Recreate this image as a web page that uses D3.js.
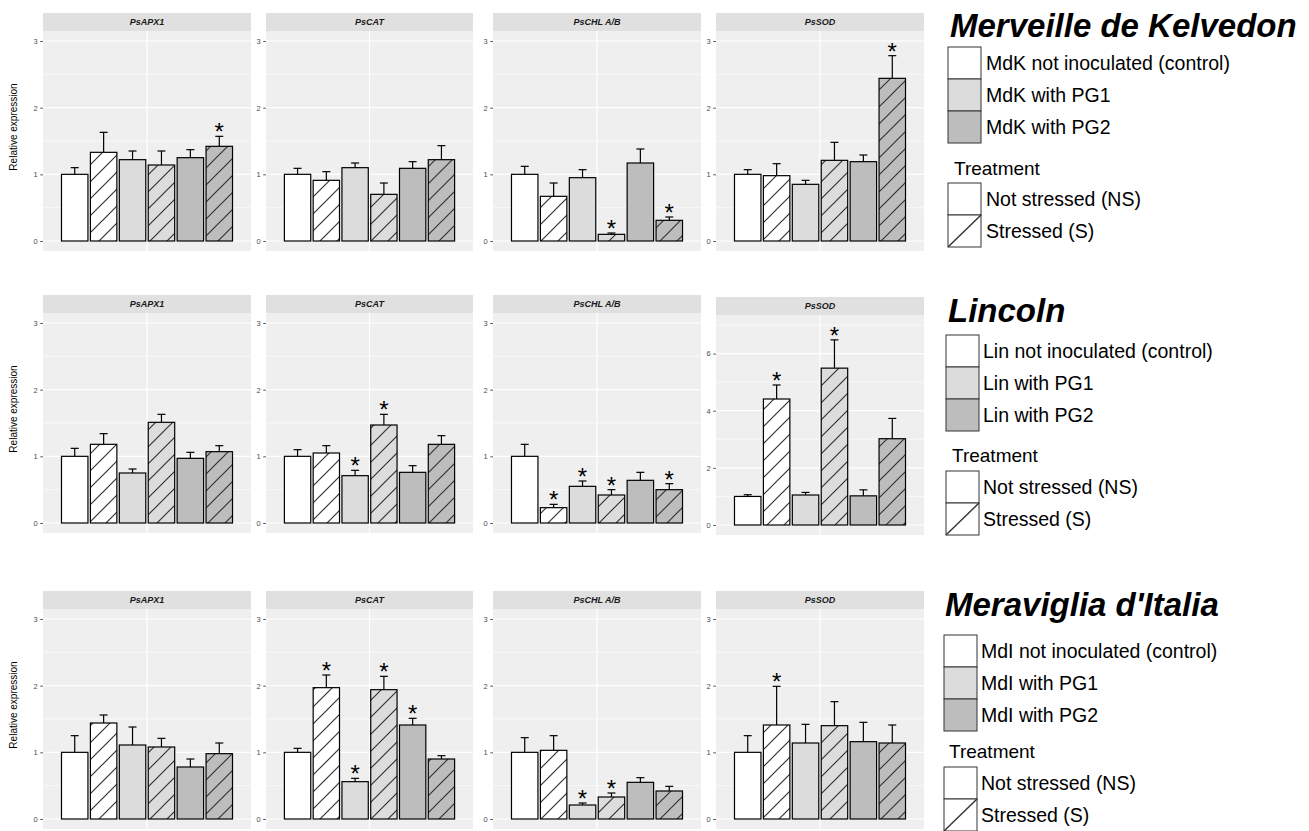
<!DOCTYPE html>
<html>
<head>
<meta charset="utf-8">
<script src="https://cdn.jsdelivr.net/npm/d3@7"></script>
<style>
  body { margin: 0; background: #fff; }
  svg { display: block; }
  text { font-family: "Liberation Sans", Arial, Helvetica, sans-serif; }
</style>
</head>
<body>
<svg id="chart" width="1309" height="831"></svg>
<script>
// ---- data ---------------------------------------------------------------
const genes = ["PsAPX1", "PsCAT", "PsCHL A/B", "PsSOD"];
const varieties = ["Merveille de Kelvedon", "Lincoln", "Meraviglia d'Italia"];
const varietyCodes = ["MdK", "Lin", "MdI"];
const inoculation = ["not inoculated (control)", "with PG1", "with PG2"];
const treatments = ["Not stressed (NS)", "Stressed (S)"];
// bar order inside each gene: control NS, control S, PG1 NS, PG1 S, PG2 NS, PG2 S

const mdkMean = [
  [1.00, 1.33, 1.22, 1.14, 1.25, 1.42],
  [1.00, 0.91, 1.10, 0.70, 1.09, 1.22],
  [1.00, 0.67, 0.95, 0.10, 1.17, 0.31],
  [1.00, 0.98, 0.85, 1.21, 1.19, 2.44]
];
const mdkSE = [
  [0.10, 0.30, 0.13, 0.21, 0.12, 0.15],
  [0.09, 0.13, 0.07, 0.17, 0.10, 0.21],
  [0.12, 0.20, 0.12, 0.02, 0.21, 0.05],
  [0.07, 0.18, 0.06, 0.27, 0.10, 0.34]
];
const mdkSig = [
  [0, 0, 0, 0, 0, 1],
  [0, 0, 0, 0, 0, 0],
  [0, 0, 0, 1, 0, 1],
  [0, 0, 0, 0, 0, 1]
];

const linMean = [
  [1.00, 1.18, 0.75, 1.51, 0.97, 1.07],
  [1.00, 1.05, 0.71, 1.47, 0.76, 1.18],
  [1.00, 0.23, 0.55, 0.42, 0.64, 0.50],
  [1.00, 4.41, 1.05, 5.49, 1.02, 3.02]
];
const linSE = [
  [0.12, 0.16, 0.06, 0.12, 0.09, 0.09],
  [0.10, 0.11, 0.08, 0.16, 0.10, 0.13],
  [0.18, 0.05, 0.08, 0.08, 0.12, 0.09],
  [0.06, 0.49, 0.09, 0.99, 0.21, 0.71]
];
const linSig = [
  [0, 0, 0, 0, 0, 0],
  [0, 0, 1, 1, 0, 0],
  [0, 1, 1, 1, 0, 1],
  [0, 1, 0, 1, 0, 0]
];

const mdiMean = [
  [1.00, 1.44, 1.11, 1.08, 0.78, 0.98],
  [1.00, 1.97, 0.56, 1.94, 1.41, 0.90],
  [1.00, 1.03, 0.21, 0.33, 0.55, 0.42],
  [1.00, 1.41, 1.14, 1.40, 1.16, 1.14]
];
const mdiSE = [
  [0.25, 0.12, 0.27, 0.13, 0.12, 0.16],
  [0.06, 0.19, 0.05, 0.20, 0.10, 0.05],
  [0.22, 0.22, 0.03, 0.06, 0.07, 0.07],
  [0.25, 0.58, 0.28, 0.36, 0.29, 0.27]
];
const mdiSig = [
  [0, 0, 0, 0, 0, 0],
  [0, 1, 1, 1, 1, 0],
  [0, 0, 1, 1, 0, 0],
  [0, 1, 0, 0, 0, 0]
];

// y-axis upper limit of every panel, and the tick values used with it
const yLimits = [
  [3, 3, 3, 3],
  [3, 3, 3, 7],
  [3, 3, 3, 3]
];
const ticksSmall = [0, 1, 2, 3];
const ticksLarge = [0, 2, 4, 6];

const means = [mdkMean, linMean, mdiMean];
const ses = [mdkSE, linSE, mdiSE];
const sigs = [mdkSig, linSig, mdiSig];

// ---- styling / layout -----------------------------------------------------
const inoculationFill = ["#ffffff", "#dcdcdc", "#bdbdbd"];
const panelBg = "#efefef";
const stripBg = "#e0e0e0";
const rowTop = [13, 295, 591];
const stripH = 18;
const panelH = 220;
const panelX = [[43, 251], [266, 473], [493, 701], [716, 924]];
const legendPos = [
  { title: 37, tx: 950, kx: 948, ky: 47, lx: 986, ty: 168, k2: 183 },
  { title: 322, tx: 948, kx: 946, ky: 335, lx: 983, ty: 455, k2: 471 },
  { title: 616, tx: 945, kx: 944, ky: 635, lx: 981, ty: 751, k2: 767 }
];

const svg = d3.select("#chart");
const defs = svg.append("defs");

// diagonal hatch on top of each inoculation colour
inoculationFill.forEach((c, i) => {
  const p = defs.append("pattern")
    .attr("id", "hatch" + i)
    .attr("patternUnits", "userSpaceOnUse")
    .attr("width", 17).attr("height", 17);
  p.append("rect").attr("width", 17).attr("height", 17).attr("fill", c);
  p.append("path")
    .attr("d", "M0,17L17,0M-4,4L4,-4M13,21L21,13")
    .attr("stroke", "#333").attr("stroke-width", 1.2);
});

varieties.forEach((variety, r) => {
  genes.forEach((gene, g) => {
    const yMax = yLimits[r][g];
    const top = rowTop[r] + (yMax > 3 ? 2 : 0);
    const pTop = top + stripH;
    const pBottom = pTop + panelH;
    const [x0, x1] = panelX[g];
    const cx = (x0 + x1) / 2;
    const groupW = (x1 - x0) / 1.2;

    const y = d3.scaleLinear()
      .domain([-0.05 * yMax, 1.05 * yMax])
      .range([pBottom, pTop]);
    const x = d3.scaleBand()
      .domain(d3.range(6))
      .range([cx - groupW / 2, cx + groupW / 2])
      .paddingInner(0.085)
      .paddingOuter(0.04);

    const panel = svg.append("g");

    // strip
    panel.append("rect")
      .attr("x", x0).attr("y", top).attr("width", x1 - x0).attr("height", stripH)
      .attr("fill", stripBg);
    panel.append("text")
      .attr("x", cx).attr("y", top + stripH / 2 + 3.2)
      .attr("text-anchor", "middle")
      .attr("font-size", 9).attr("font-weight", "bold").attr("font-style", "italic")
      .attr("fill", "#1a1a1a")
      .text(gene);

    // panel background and grid
    panel.append("rect")
      .attr("x", x0).attr("y", pTop).attr("width", x1 - x0).attr("height", panelH)
      .attr("fill", panelBg);
    const ticks = yMax > 3 ? ticksLarge : ticksSmall;
    const step = ticks[1] - ticks[0];
    const minor = d3.range(step / 2, yMax + step / 2 + 1e-9, step);
    panel.selectAll(".minor").data(minor).enter().append("line")
      .attr("x1", x0).attr("x2", x1)
      .attr("y1", d => y(d)).attr("y2", d => y(d))
      .attr("stroke", "#fff").attr("stroke-width", 0.6);
    panel.selectAll(".major").data(ticks).enter().append("line")
      .attr("x1", x0).attr("x2", x1)
      .attr("y1", d => y(d)).attr("y2", d => y(d))
      .attr("stroke", "#fff").attr("stroke-width", 1.2);
    panel.append("line")
      .attr("x1", cx).attr("x2", cx).attr("y1", pTop).attr("y2", pBottom)
      .attr("stroke", "#fff").attr("stroke-width", 1.2);

    // y axis
    const axis = panel.append("g")
      .attr("transform", `translate(${x0},0)`)
      .call(d3.axisLeft(y).tickValues(ticks).tickSize(2.8).tickPadding(2.5).tickFormat(d3.format("d")));
    axis.select(".domain").remove();
    axis.selectAll(".tick line").attr("stroke", "#333").attr("stroke-width", 0.8);
    axis.selectAll(".tick text")
      .attr("font-size", 7.5).attr("fill", "#4d4d4d")
      .attr("font-family", "Liberation Sans, Arial, sans-serif");

    if (g === 0) {
      panel.append("text")
        .attr("transform", `translate(${17},${(pTop + pBottom) / 2 - 14}) rotate(-90)`)
        .attr("text-anchor", "middle")
        .attr("font-size", 10).attr("fill", "#000")
        .text("Relative expression");
    }

    // bars
    const rows = means[r][g].map((m, i) => ({
      i, m, se: ses[r][g][i], sig: sigs[r][g][i],
      inoc: Math.floor(i / 2), stressed: i % 2 === 1
    }));

    panel.selectAll(".bar").data(rows).enter().append("rect")
      .attr("x", d => x(d.i))
      .attr("y", d => y(d.m))
      .attr("width", x.bandwidth())
      .attr("height", d => y(0) - y(d.m))
      .attr("fill", d => d.stressed ? `url(#hatch${d.inoc})` : inoculationFill[d.inoc])
      .attr("stroke", "#000").attr("stroke-width", 1.2);

    // upper error bars
    const cap = 4;
    const eb = panel.selectAll(".err").data(rows).enter().append("g")
      .attr("stroke", "#000").attr("stroke-width", 1.2);
    eb.append("line")
      .attr("x1", d => x(d.i) + x.bandwidth() / 2).attr("x2", d => x(d.i) + x.bandwidth() / 2)
      .attr("y1", d => y(d.m)).attr("y2", d => y(d.m + d.se));
    eb.append("line")
      .attr("x1", d => x(d.i) + x.bandwidth() / 2 - cap).attr("x2", d => x(d.i) + x.bandwidth() / 2 + cap)
      .attr("y1", d => y(d.m + d.se)).attr("y2", d => y(d.m + d.se));

    // significance marks
    panel.selectAll(".sig").data(rows.filter(d => d.sig)).enter().append("text")
      .attr("x", d => x(d.i) + x.bandwidth() / 2)
      .attr("y", d => y(d.m + d.se) + 4)
      .attr("text-anchor", "middle")
      .attr("font-size", 24).attr("fill", "#000")
      .text("*");
  });

  // legend for this variety
  const L = legendPos[r];
  const lg = svg.append("g");
  lg.append("text")
    .attr("x", L.tx).attr("y", L.title)
    .attr("font-size", 33).attr("font-weight", "bold").attr("font-style", "italic")
    .attr("fill", "#000")
    .text(variety);

  const keyW = 33, keyH = 32;
  inoculation.forEach((lab, i) => {
    lg.append("rect")
      .attr("x", L.kx).attr("y", L.ky + i * keyH).attr("width", keyW).attr("height", keyH)
      .attr("fill", inoculationFill[i]).attr("stroke", "#333").attr("stroke-width", 1);
    lg.append("text")
      .attr("x", L.lx).attr("y", L.ky + i * keyH + keyH / 2 + 7)
      .attr("font-size", 19.5).attr("fill", "#000")
      .text(varietyCodes[r] + " " + lab);
  });

  lg.append("text")
    .attr("x", L.tx + 4).attr("y", L.ty + 7)
    .attr("font-size", 19).attr("fill", "#000")
    .text("Treatment");

  treatments.forEach((lab, i) => {
    const ky = L.k2 + i * keyH;
    lg.append("rect")
      .attr("x", L.kx).attr("y", ky).attr("width", keyW).attr("height", keyH)
      .attr("fill", "#fff").attr("stroke", "#333").attr("stroke-width", 1);
    if (i === 1) {
      lg.append("line")
        .attr("x1", L.kx).attr("y1", ky + keyH).attr("x2", L.kx + keyW).attr("y2", ky)
        .attr("stroke", "#333").attr("stroke-width", 1.4);
    }
    lg.append("text")
      .attr("x", L.lx).attr("y", ky + keyH / 2 + 7)
      .attr("font-size", 19.5).attr("fill", "#000")
      .text(lab);
  });
});
</script>
</body>
</html>
